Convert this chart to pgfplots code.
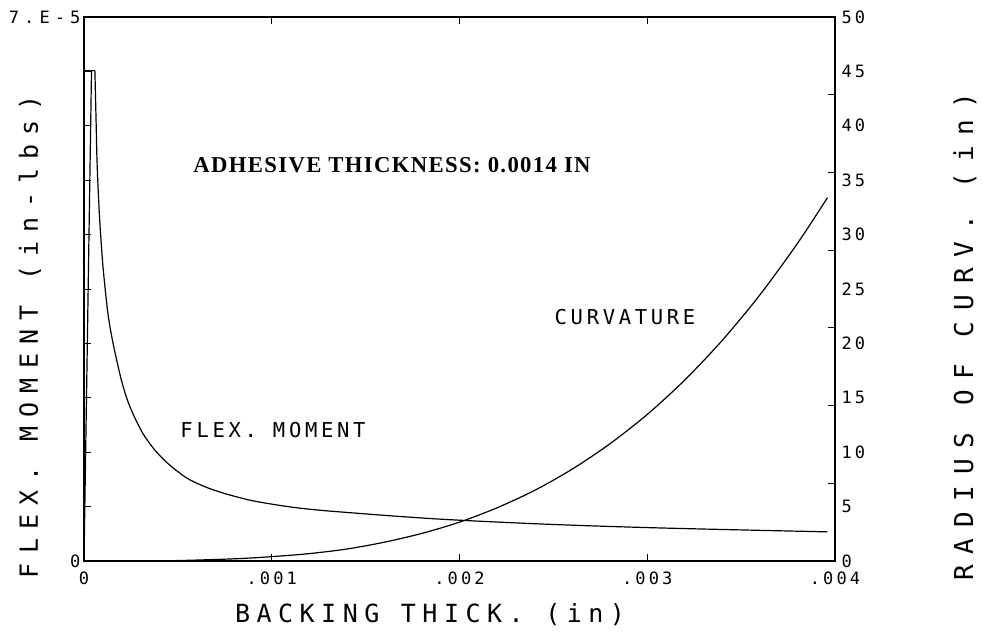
\documentclass[border=0pt]{standalone}
\usepackage{fontspec}
\usepackage{pgfplots}
\pgfplotsset{compat=1.18}
\newfontfamily\plotfont{DejaVu Sans Mono}[LetterSpace=18]
\newfontfamily\adhfont{Liberation Serif}[LetterSpace=6]
\begin{document}
\begin{tikzpicture}
\path[use as bounding box] (-84pt,-77pt) rectangle (899pt,561pt);
\begin{axis}[name=main, at={(0,0)}, anchor=south west, scale only axis,
  width=751pt, height=544pt,
  xmin=0, xmax=0.004, ymin=0, ymax=7,
  xtick={0,0.001,0.002,0.003,0.004}, xticklabels={0,.001,.002,.003,.004},
  ytick={0,0.7,1.4,2.1,2.8,3.5,4.2,4.9,5.6,6.3,7},
  yticklabels={0,,,,,,,,,,{\addfontfeature{LetterSpace=30}7.E-5}},
  ytick pos=left, scaled x ticks=false, scaled y ticks=false,
  tick align=inside, major tick length=7pt,
  tick style={black, line width=0.9pt},
  axis line style={line width=1.1pt},
  ticklabel style={font=\plotfont\fontsize{17}{17}\selectfont},
  xticklabel style={yshift=-10pt, inner ysep=1pt},
  clip=false]
\addplot[black, line width=1.2pt] coordinates {(0,0) (0.00004,6.31) (0.000058,6.31)};
\addplot[black, line width=1.2pt] coordinates {(0,6.31) (0.00004,6.31)};
\addplot[black, line width=1.2pt, smooth, tension=0.6] coordinates {
(0.000058,6.31) (0.000065,5.6) (0.00007,5.1) (0.00008,4.55) (0.00009,4.15) (0.0001,3.82)
(0.000115,3.45) (0.00013,3.14) (0.00015,2.86) (0.00017,2.63) (0.0002,2.32) (0.00023,2.08)
(0.00026,1.90) (0.0003,1.70) (0.00033,1.58) (0.00038,1.42) (0.00044,1.27) (0.0005,1.15)
(0.00056,1.05) (0.00065,0.95) (0.00074,0.875) (0.00083,0.815) (0.00092,0.765) (0.0011,0.695)
(0.00125,0.655) (0.0014,0.625) (0.0017,0.57) (0.002,0.525) (0.0025,0.47) (0.003,0.43)
(0.0035,0.40) (0.00396,0.375)};
\end{axis}
\begin{axis}[at={(0,0)}, anchor=south west, scale only axis,
  width=751pt, height=544pt,
  xmin=0, xmax=0.004, ymin=0, ymax=50,
  hide x axis,
  ytick={0,5,10,15,20,25,30,35,40,45,50},
  yticklabels={0,5,10,15,20,25,30,35,40,45,50},
  ytick pos=right, yticklabel pos=right,
  tick align=inside, major tick length=0pt,
  extra y ticks={7.142857,14.285714,21.428571,28.571429,35.714286,42.857143},
  extra y tick labels={},
  extra y tick style={major tick length=7pt, tick style={black, line width=0.9pt}},
  axis line style={line width=1.1pt},
  ticklabel style={font=\plotfont\fontsize{17}{17}\selectfont},
  yticklabel style={inner ysep=0.5pt, xshift=3pt},
  clip=false]
\addplot[black, line width=1.2pt, smooth] coordinates {
(0,0) (0.0003,0.01) (0.0005,0.04) (0.0008,0.2) (0.001,0.4) (0.0012,0.68) (0.0014,1.1)
(0.0016,1.73) (0.0018,2.54) (0.002,3.57) (0.0022,4.89) (0.0024,6.49) (0.0026,8.44)
(0.0028,10.76) (0.003,13.47) (0.0032,16.64) (0.0034,20.29) (0.0036,24.46)
(0.0038,29.19) (0.00396,33.4)};
\end{axis}
\node[font=\plotfont\addfontfeature{LetterSpace=26}\fontsize{25}{25}\selectfont] at (346pt,-54pt) {BACKING THICK. (in)};
\node[rotate=90, font=\plotfont\addfontfeature{LetterSpace=37}\fontsize{25}{25}\selectfont] at (-54pt,224pt) {FLEX. MOMENT (in-lbs)};
\node[rotate=90, font=\plotfont\addfontfeature{LetterSpace=42}\fontsize{26}{26}\selectfont] at (881pt,224pt) {RADIUS OF CURV. (in)};
\node[font=\plotfont\fontsize{20.5}{20.5}\selectfont] at (189pt,131pt) {FLEX. MOMENT};
\node[font=\plotfont\fontsize{20.5}{20.5}\selectfont] at (541pt,244pt) {CURVATURE};
\node[font=\adhfont\bfseries\fontsize{22.7}{22.7}\selectfont] at (308pt,396pt) {ADHESIVE THICKNESS: 0.0014 IN};
\end{tikzpicture}
\end{document}
